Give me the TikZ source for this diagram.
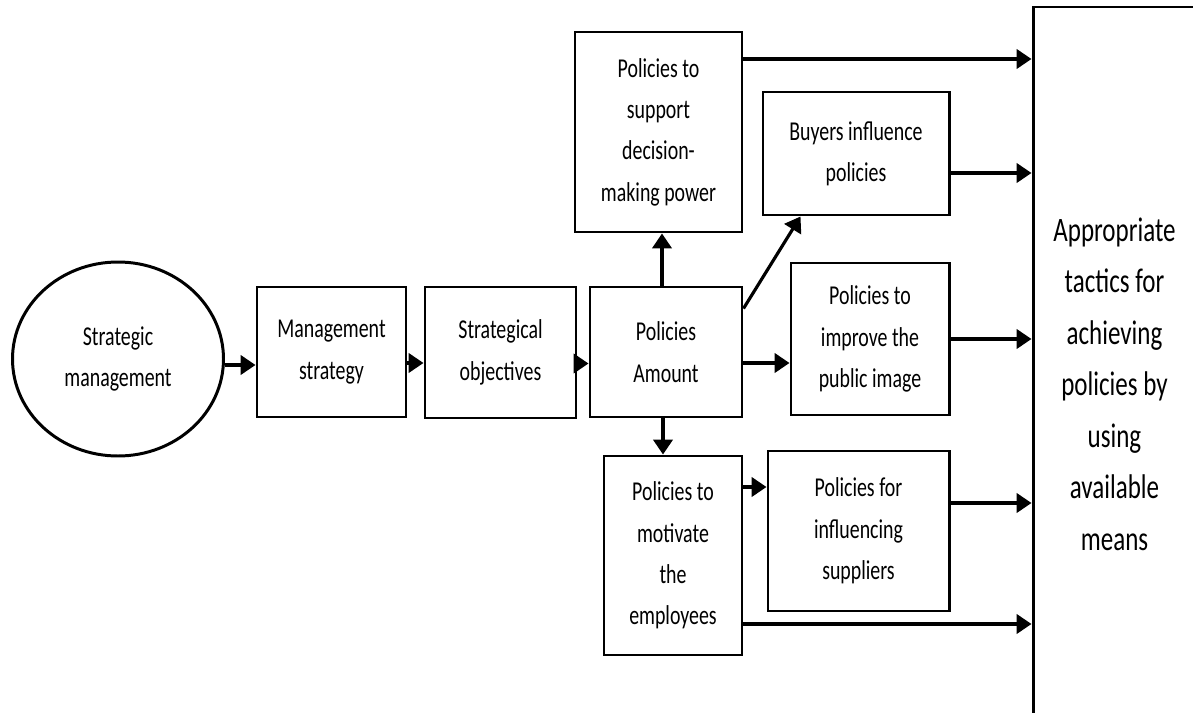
\documentclass[tikz,border=0pt]{standalone}
\usepackage{fontspec}
\setmainfont{Carlito}
\newfontfamily\boxfont[FakeStretch=0.73]{Carlito}
\usetikzlibrary{arrows.meta,shapes.geometric,calc}

\begin{document}
\begin{tikzpicture}[
    box/.style={draw, line width=1.7pt, align=center, inner sep=0pt,
        font=\boxfont\fontsize{15.5}{23.5}\selectfont},
    arr/.style={line width=1.8pt, -{Triangle[length=8.5pt,width=11pt]}}
]
    \useasboundingbox (0,0) rectangle (23.86,-14.26);

    % Hauptreihe
    \node[box, ellipse, minimum width=4.22cm, minimum height=3.88cm] (sm) at (2.36,-7.18) {Strategic\\management};
    \node[box, minimum width=2.98cm, minimum height=2.6cm] (mgmt) at (6.63,-7.04) {Management\\strategy};
    \node[box, minimum width=3.02cm, minimum height=2.62cm] (strat) at (10.01,-7.05) {Strategical\\objectives};
    \node[box, minimum width=3.04cm, minimum height=2.6cm] (amount) at (13.32,-7.04) {Policies\\Amount};

    % Policen
    \node[box, minimum width=3.34cm, minimum height=4.0cm] (support) at (13.17,-2.64) {Policies to\\support\\decision-\\making power};
    \node[box, minimum width=3.72cm, minimum height=2.46cm] (buyers) at (17.12,-3.07) {Buyers influence\\policies};
    \node[box, minimum width=3.16cm, minimum height=3.04cm] (improve) at (17.4,-6.78) {Policies to\\improve the\\public image};
    \node[box, minimum width=2.76cm, minimum height=3.98cm] (motivate) at (13.46,-11.11) {Policies to\\motivate\\the\\employees};
    \node[box, minimum width=3.62cm, minimum height=3.2cm] (influence) at (17.17,-10.62) {Policies for\\influencing\\suppliers};

    % Taktik
    \node[box, minimum width=3.26cm, minimum height=14.26cm] (tactics) at (22.29,-7.27) {};
    \node[align=center, font=\boxfont\fontsize{19.5}{29.3}\selectfont] (tacticstext) at (22.29,-7.68)
        {Appropriate\\tactics for\\achieving\\policies by\\using\\available\\means};

    % Pfeile Hauptreihe
    \draw[arr] ([yshift=-0.12cm]sm.east) -- ([yshift=-0.12cm]sm.east -| mgmt.west);
    \draw[arr] ([yshift=-0.22cm]mgmt.east) -- ([yshift=-0.22cm]mgmt.east -| strat.west);
    \draw[arr] ([xshift=0.1cm,yshift=-0.22cm]strat.east) -- ([yshift=-0.22cm]strat.east -| amount.west);
    \draw[arr] ([yshift=-0.22cm]amount.east) -- ([yshift=-0.22cm]amount.east -| improve.west);

    % Pfeile von Policies Amount
    \draw[arr] (amount.north -| 13.24,0) -- (support.south -| 13.24,0);
    \draw[arr] ($(amount.north east)+(0,-0.46)$) -- ($(buyers.south west)+(0.78,0)$);
    \draw[arr] (amount.south -| 13.26,0) -- (motivate.north -| 13.26,0);
    \draw[arr] ([yshift=1.37cm]motivate.east) -- ([yshift=1.37cm]motivate.east -| influence.west);

    % Pfeile zur Taktik
    \draw[arr] ([yshift=1.46cm]support.east) -- ([yshift=1.46cm]support.east -| tactics.west);
    \draw[arr] ([yshift=-0.39cm]buyers.east) -- ([yshift=-0.39cm]buyers.east -| tactics.west);
    \draw[arr] (improve.east) -- (improve.east -| tactics.west);
    \draw[arr] ([yshift=0.56cm]influence.east) -- ([yshift=0.56cm]influence.east -| tactics.west);
    \draw[arr] ([yshift=-1.37cm]motivate.east) -- ([yshift=-1.37cm]motivate.east -| tactics.west);
\end{tikzpicture}
\end{document}
